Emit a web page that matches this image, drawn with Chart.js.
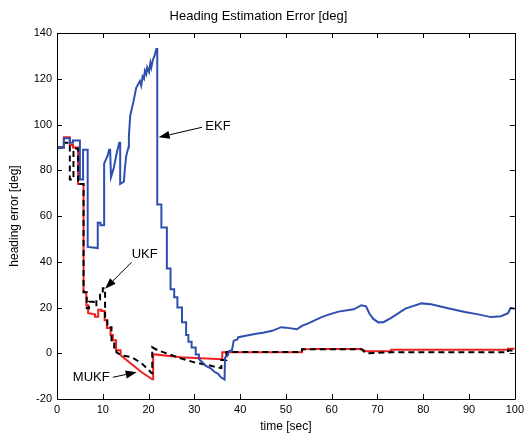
<!DOCTYPE html>
<html>
<head>
<meta charset="utf-8">
<script src="https://cdn.jsdelivr.net/npm/chart.js@4/dist/chart.umd.min.js"></script>
<style>
html,body{margin:0;padding:0;background:#fff;}
#wrap{width:528px;height:436px;}
</style>
</head>
<body>
<div id="wrap"><canvas id="c" width="528" height="436"></canvas></div>
<script>
// ---- data ----
const xTicks = [0,10,20,30,40,50,60,70,80,90,100];
const yTicks = [-20,0,20,40,60,80,100,120,140];

const ekfTime = [0,1.5,1.5,2.8,2.8,3.5,3.5,5.0,5.0,5.7,5.7,6.7,6.7,8.9,8.9,9.5,9.5,10.3,10.3,11.0,11.4,11.6,11.8,12.4,12.8,13.1,13.6,13.8,13.8,14.6,14.8,15.1,15.6,15.7,16.0,16.7,17.3,18.1,18.4,18.7,19.0,19.2,19.5,19.7,20.1,20.4,20.6,20.9,21.3,21.7,21.9,21.9,22.8,22.8,24.0,24.0,24.8,24.8,25.6,25.6,26.3,26.3,27.3,27.3,28.2,28.2,28.7,28.7,29.4,29.4,30.3,30.3,31.0,31.0,31.8,32.5,33.5,34.3,35.2,35.8,36.6,36.7,37.3,37.6,38.2,38.6,39.4,39.6,41.5,43.5,45,47,49,50,52.4,53.5,55,57.8,59.5,61.5,64.8,66.5,67.5,68.2,69.1,70.2,71.3,73,76.1,79.6,81.7,85.4,89.1,92,94.8,97,98.5,99.1,100];
const ekfError = [90,90,94,94,92,92,93,93,76,76,89,89,46.5,46,57,57,56,56,83,86,89,89,77,81,85,88,92,92,74,75,80,86,90,95,104,110,116,119,117,121,120,123.5,122,125,123,127,125,128,130,133,133,65,65,55,55,37,37,28,28,24.5,24.5,20,20,13.5,13.5,8,8,5,5,2.5,2.5,-0.5,-0.5,-2.5,-4,-5.5,-6.5,-8,-9,-10.5,-11.5,-2,-1,1,1.2,5.5,6,7,7.8,8.5,9,9.8,11.4,11.2,10.5,12,13.2,15.8,17,18.2,19.2,21,20.5,17.5,15,13.5,13.6,15.5,19.5,21.8,21.4,19.7,18,17,15.8,16.2,17.5,19.8,19.5];

const ukfTime = [0,1.5,1.5,2.8,2.8,3.6,3.6,4.6,4.6,5.8,5.8,6.5,6.5,7.0,7.0,8.0,8.0,8.6,8.6,9.4,9.4,10.0,10.0,10.5,10.5,11.0,11.0,11.9,11.9,12.5,12.5,13.0,13.0,14.1,16.3,18.5,20.7,20.8,20.8,22,27,30,33,35.8,35.9,35.9,37,37,53.5,53.5,66.5,67.5,73,98.5,98.5,100];
const ukfError = [90,90,92,92,76,76,89.5,89.5,74,74,26.7,26.7,19.7,19.7,22.5,22.5,21,21,23.5,23.5,26,26,28.4,28.4,15.3,15.3,11.4,11.4,5.7,5.7,2.5,2.5,0.4,-0.9,-1.7,-4.4,-8.7,-8.7,2.6,1.3,-2.2,-4,-5.2,-6.5,-6.5,-3,-3,0.6,0.6,1.7,1.7,0,0.4,0.4,1.2,1.2];

const mukfTime = [0,1.5,1.5,2.8,2.8,3.5,3.5,4.6,4.6,5.8,5.8,6.4,6.4,6.8,6.8,8.3,8.3,9.0,9.0,9.7,9.7,10.4,10.4,10.9,10.9,11.7,11.7,12.2,12.2,12.9,12.9,13.9,13.9,18.5,20.8,21.0,21.0,27,36,36.1,36.1,53.5,53.5,56.5,66.5,67.5,73,73,98.5,98.5,100];
const mukfError = [90,90,94.4,94.4,91,91,90,90,74,74,26.7,26.7,21,21,17.5,17,16,16,19,19,18.5,18.5,14.4,14.4,11,11,8,8,5.7,5.7,1.3,1.3,-0.9,-8.3,-11.4,-11.4,-0.4,-1.7,-2.6,-2.6,0.4,0.4,1.7,1.9,1.9,0.9,0.9,1.5,1.5,2,2];

const seriesNames = ['EKF','UKF','MUKF'];

function pts(xs, ys){ return xs.map((x,i)=>({x:x, y:ys[i]})); }

const FONT = '"Liberation Sans", Arial, Helvetica, sans-serif';

// inward ticks on all four sides + full frame
const frameTicks = {
  id:'frameTicks',
  afterDraw(chart){
    const {ctx, chartArea:a, scales:{x,y}} = chart;
    ctx.save();
    ctx.strokeStyle = '#000';
    ctx.lineWidth = 1;
    ctx.beginPath();
    ctx.rect(Math.round(a.left)+0.5, Math.round(a.top)+0.5, Math.round(a.right-a.left), Math.round(a.bottom-a.top));
    ctx.stroke();
    const L = 5;
    ctx.beginPath();
    xTicks.forEach(v=>{
      const px = Math.round(x.getPixelForValue(v))+0.5;
      ctx.moveTo(px, a.bottom); ctx.lineTo(px, a.bottom-L);
      ctx.moveTo(px, a.top); ctx.lineTo(px, a.top+L);
    });
    yTicks.forEach(v=>{
      const py = Math.round(y.getPixelForValue(v))+0.5;
      ctx.moveTo(a.left, py); ctx.lineTo(a.left+L, py);
      ctx.moveTo(a.right, py); ctx.lineTo(a.right-L, py);
    });
    ctx.stroke();
    ctx.restore();
  }
};

// text labels with arrows, positioned in data coordinates
const annotations = [
  {text:'EKF',  tx:32.4, ty:99.2, align:'left',  from:[31.7,98.8], to:[22.2,94.4]},
  {text:'UKF',  tx:16.3, ty:43.3, align:'left',  from:[16.3,39.8], to:[10.5,28.2]},
  {text:'MUKF', tx:11.5, ty:-10.5, align:'right', from:[12.2,-10.5], to:[17.4,-8.3]}
];
const arrows = {
  id:'arrows',
  afterDatasetsDraw(chart){
    const {ctx, scales:{x,y}} = chart;
    ctx.save();
    ctx.fillStyle = '#000';
    ctx.strokeStyle = '#000';
    ctx.lineWidth = 1;
    ctx.font = '13px ' + FONT;
    ctx.textBaseline = 'middle';
    annotations.forEach(an=>{
      ctx.textAlign = an.align;
      ctx.fillText(an.text, x.getPixelForValue(an.tx), y.getPixelForValue(an.ty));
      const x1 = x.getPixelForValue(an.from[0]), y1 = y.getPixelForValue(an.from[1]);
      const x2 = x.getPixelForValue(an.to[0]),   y2 = y.getPixelForValue(an.to[1]);
      const ang = Math.atan2(y2-y1, x2-x1);
      const hl = 11, hw = 4;
      const bx = x2 - hl*Math.cos(ang), by = y2 - hl*Math.sin(ang);
      ctx.beginPath(); ctx.moveTo(x1,y1); ctx.lineTo(bx,by); ctx.stroke();
      ctx.beginPath();
      ctx.moveTo(x2,y2);
      ctx.lineTo(bx + hw*Math.sin(ang), by - hw*Math.cos(ang));
      ctx.lineTo(bx - hw*Math.sin(ang), by + hw*Math.cos(ang));
      ctx.closePath(); ctx.fill();
    });
    ctx.restore();
  }
};

new Chart(document.getElementById('c'), {
  type:'scatter',
  data:{
    datasets:[
      {label:seriesNames[0], data:pts(ekfTime, ekfError), showLine:true, borderColor:'#2f4fb0', borderWidth:2, pointRadius:0, tension:0, fill:false},
      {label:seriesNames[1], data:pts(ukfTime, ukfError), showLine:true, borderColor:'#000000', borderWidth:2, borderDash:[6,4], pointRadius:0, tension:0, fill:false},
      {label:seriesNames[2], data:pts(mukfTime, mukfError), showLine:true, borderColor:'#f02020', borderWidth:2, pointRadius:0, tension:0, fill:false}
    ]
  },
  options:{
    responsive:false,
    animation:false,
    layout:{padding:{left:0,right:11,top:0,bottom:0}},
    plugins:{
      legend:{display:false},
      tooltip:{enabled:false},
      title:{display:true, text:'Heading Estimation Error [deg]', color:'#000',
             font:{family:FONT, size:13, weight:'normal'}, padding:{top:9,bottom:8.4}}
    },
    scales:{
      x:{type:'linear', min:0, max:100,
         afterBuildTicks(s){ s.ticks = xTicks.map(v=>({value:v})); },
         afterFit(s){ s.height = 37; },
         grid:{display:false, drawTicks:false},
         border:{display:true, color:'#000'},
         ticks:{color:'#000', padding:4, font:{family:FONT, size:11}, maxRotation:0},
         title:{display:true, text:'time [sec]', color:'#000', font:{family:FONT, size:12}, padding:{top:0,bottom:2}}
      },
      y:{type:'linear', min:-20, max:140,
         afterBuildTicks(s){ s.ticks = yTicks.map(v=>({value:v})); },
         afterFit(s){ s.width = 57; },
         grid:{display:false, drawTicks:false},
         border:{display:true, color:'#000'},
         ticks:{color:'#000', padding:5, font:{family:FONT, size:11}},
         title:{display:true, text:'heading error [deg]', color:'#000', font:{family:FONT, size:12}, padding:{top:7,bottom:0}}
      }
    }
  },
  plugins:[frameTicks, arrows]
});
</script>
</body>
</html>
